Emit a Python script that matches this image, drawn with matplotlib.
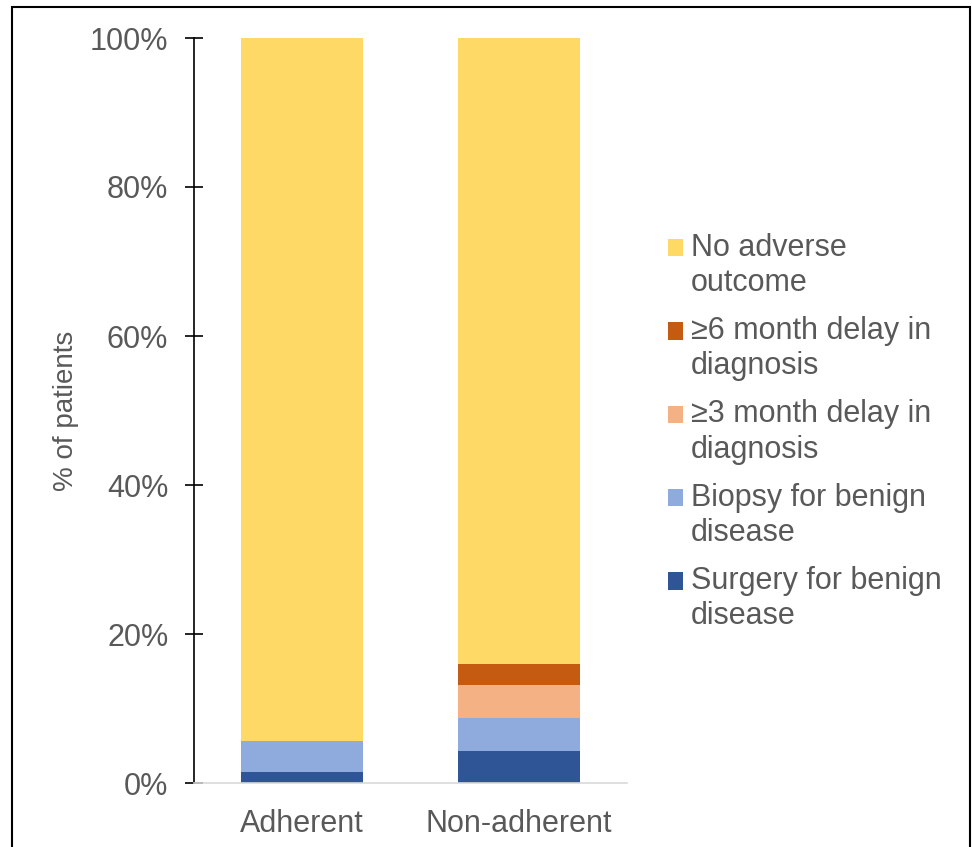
import matplotlib
matplotlib.use('Agg')
import matplotlib.pyplot as plt
from matplotlib.patches import Patch, Rectangle
from matplotlib.legend_handler import HandlerPatch
import numpy as np

plt.rcParams['font.family'] = ['Liberation Sans', 'DejaVu Sans']

groups = ['Adherent', 'Non-adherent']
surgery = [1.5, 4.3]
biopsy = [4.1, 4.4]
delay3 = [0.0, 4.4]
delay6 = [0.0, 2.9]
no_adverse = [100 - s - b - d3 - d6 for s, b, d3, d6 in zip(surgery, biopsy, delay3, delay6)]

series = [
    ('Surgery for benign\ndisease', surgery, '#2F5597'),
    ('Biopsy for benign\ndisease', biopsy, '#8FAADC'),
    ('\u22653 month delay in\ndiagnosis', delay3, '#F4B183'),
    ('\u22656 month delay in\ndiagnosis', delay6, '#C55A11'),
    ('No adverse\noutcome', no_adverse, '#FFD966'),
]

text_col = '#595959'

fig = plt.figure(figsize=(9.72, 8.47), dpi=100)
ax = fig.add_axes([194 / 972, 1 - 783 / 847, (627 - 194) / 972, (783 - 38) / 847])

x = np.arange(len(groups))
bottom = np.zeros(len(groups))
for label, vals, col in series:
    ax.bar(x, vals, 0.565, bottom=bottom, color=col, label=label)
    bottom += np.array(vals)

ax.set_xlim(-0.5, 1.5)
ax.set_ylim(0, 100)
ax.set_yticks([0, 20, 40, 60, 80, 100])
ax.set_yticklabels(['0%', '20%', '40%', '60%', '80%', '100%'])
ax.set_xticks(x)
ax.set_xticklabels(groups)

ax.spines['top'].set_visible(False)
ax.spines['right'].set_visible(False)
ax.spines['bottom'].set_color('#D9D9D9')
ax.spines['bottom'].set_linewidth(1.2)
ax.spines['left'].set_color('black')
ax.spines['left'].set_linewidth(1.2)

ax.tick_params(axis='y', direction='inout', length=13, width=1.2, color='black',
               labelsize=22, labelcolor=text_col, pad=12)
ax.tick_params(axis='x', length=0, labelsize=22, labelcolor=text_col, pad=19)

ax.set_ylabel('% of patients', fontsize=20, color=text_col, labelpad=8)


# square sits beside the first line of each two-line label
def top_square(legend, orig_handle, xdescent, ydescent, width, height, fontsize):
    return Rectangle((-xdescent, -ydescent + 0.6 * fontsize), width, height)


handles = [Patch(facecolor=col, label=label) for label, vals, col in series][::-1]
leg = fig.legend(handles=handles, loc='center left', bbox_to_anchor=(668 / 972, 1 - 432 / 847),
                 frameon=False, fontsize=22, labelcolor=text_col, handlelength=0.49,
                 handleheight=0.49, handletextpad=0.26, labelspacing=0.6, borderpad=0,
                 borderaxespad=0,
                 handler_map={Patch: HandlerPatch(patch_func=top_square)})
for t in leg.get_texts():
    t.set_linespacing(1.22)

fig.add_artist(Rectangle((12 / 972, -0.02), (970 - 12) / 972, 1.02 - 7 / 847,
                         transform=fig.transFigure, fill=False, edgecolor='black', lw=1.5))

fig.savefig('out.png', dpi=100)
